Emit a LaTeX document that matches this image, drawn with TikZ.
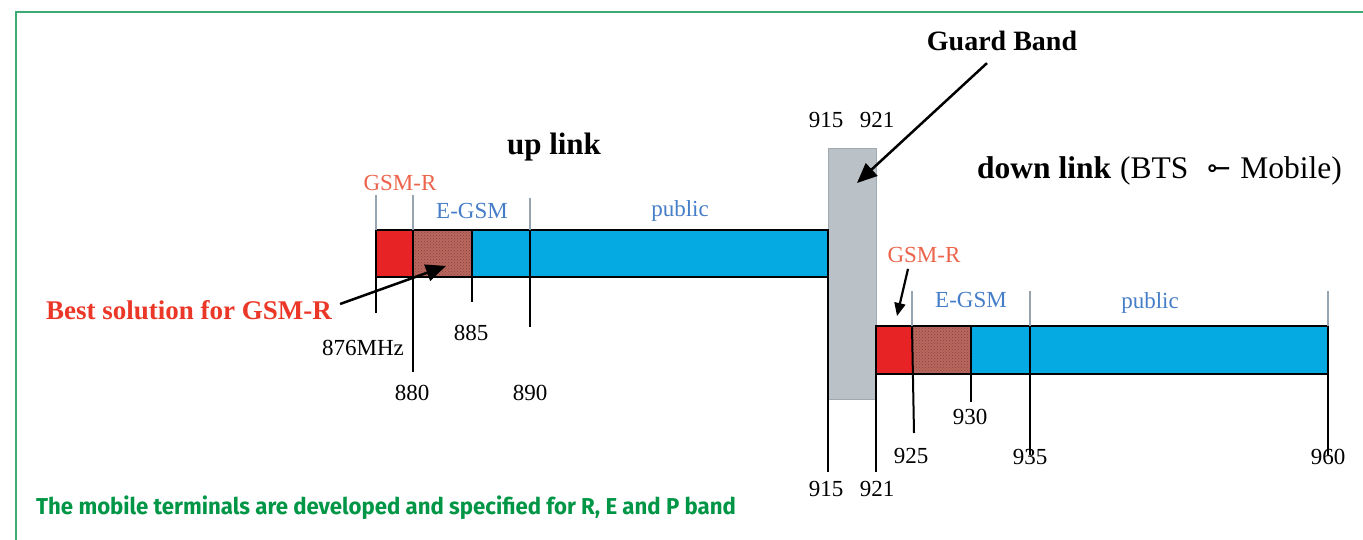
\documentclass[tikz,border=0pt]{standalone}
\usepackage{fontspec}
\setmainfont{Liberation Serif}
\newfontfamily\captionfont{Fira Sans}
\newfontfamily\symbolfont{DejaVu Sans}
\usetikzlibrary{arrows.meta,patterns}
\definecolor{framegreen}{RGB}{60,170,115}
\definecolor{captiongreen}{RGB}{0,150,70}
\definecolor{bandred}{RGB}{232,35,38}
\definecolor{bandblue}{RGB}{5,170,226}
\definecolor{bandhatch}{RGB}{184,104,94}
\definecolor{hatchdots}{RGB}{140,62,56}
\definecolor{guardgray}{RGB}{186,194,200}
\definecolor{guardedge}{RGB}{160,170,178}
\definecolor{labelred}{RGB}{235,100,75}
\definecolor{labelblue}{RGB}{70,125,200}
\definecolor{tickgray}{RGB}{150,165,175}
\definecolor{boldred}{RGB}{235,55,40}
\begin{document}
\begin{tikzpicture}[x=1pt,y=-1pt,
  outline/.style={draw=black,line width=2pt},
  tickline/.style={black,line width=2pt},
  thintick/.style={tickgray,line width=1.2pt},
  num/.style={font=\fontsize{23}{26}\selectfont,inner sep=0pt},
  bandname/.style={font=\fontsize{23}{26}\selectfont,inner sep=0pt},
  heading/.style={font=\fontsize{31}{34}\selectfont\bfseries,inner sep=0pt},
  plainheading/.style={font=\fontsize{31.5}{34}\selectfont,inner sep=0pt},
  pointer/.style={black,line width=2.5pt,-{Triangle[length=20pt,width=17pt]}},
  smallpointer/.style={black,line width=2.2pt,-{Triangle[length=13pt,width=11pt]}},
  hatched/.style={fill=bandhatch,postaction={pattern=crosshatch dots,pattern color=hatchdots}}
]
\useasboundingbox (0,0) rectangle (1363,540);

% open frame: top and left edges only
\draw[framegreen,line width=2pt] (16,540) -- (16,12) -- (1363,12);

% guard band between the two links
\node[fill=guardgray,draw=guardedge,line width=1pt,minimum width=48pt,minimum height=251pt,
      inner sep=0pt,anchor=north west] (guard) at (828,148) {};

% ---------------- up link band ----------------
\fill[bandred] (376,230) rectangle (413,277);
\fill[hatched] (413,230) rectangle (472,277);
\fill[bandblue] (472,230) rectangle (828,277);
\draw[outline] (376,230) rectangle (828,277);
\draw[thintick] (376,195) -- (376,230);
\draw[thintick] (413,195) -- (413,230);
\draw[thintick] (530,198) -- (530,230);
\draw[tickline] (376,277) -- (376,313);
\draw[tickline] (413,230) -- (413,372);
\draw[tickline] (472,230) -- (472,302);
\draw[tickline] (530,230) -- (530,327);
\draw[tickline] (828,230) -- (828,472);

% ---------------- down link band ----------------
\fill[bandred] (876,326) rectangle (912,374);
\fill[hatched] (912,326) rectangle (971,374);
\fill[bandblue] (971,326) rectangle (1328,374);
\draw[outline] (876,326) rectangle (1328,374);
\draw[thintick] (912,291) -- (912,326);
\draw[thintick] (1030,291) -- (1030,326);
\draw[thintick] (1328,291) -- (1328,326);
\draw[tickline] (912,326) -- (914,433);
\draw[tickline] (971,326) -- (971,402);
\draw[tickline] (1030,326) -- (1030,455);
\draw[tickline] (1328,326) -- (1328,455);
\draw[tickline] (876,326) -- (876,472);

% ---------------- frequency labels ----------------
\node[num] (f876) at (363,348) {876MHz};
\node[num] (f880) at (412,393) {880};
\node[num] (f885) at (471,333) {885};
\node[num] (f890) at (530,393) {890};
\node[num] (f915t) at (826,120) {915};
\node[num] (f921t) at (877,120) {921};
\node[num] (f915b) at (826,489) {915};
\node[num] (f921b) at (877,489) {921};
\node[num] (f925) at (911,456) {925};
\node[num] (f930) at (970,417) {930};
\node[num] (f935) at (1030,457) {935};
\node[num] (f960) at (1328,457) {960};

% ---------------- band names ----------------
\node[bandname,text=labelred] (ugsmr) at (400,183) {GSM-R};
\node[bandname,text=labelblue] (uegsm) at (472,211) {E-GSM};
\node[bandname,text=labelblue] (upub) at (680,211) {public};
\node[bandname,text=labelred] (dgsmr) at (924,255) {GSM-R};
\node[bandname,text=labelblue] (degsm) at (971,300) {E-GSM};
\node[bandname,text=labelblue] (dpub) at (1150,303) {public};

% ---------------- headings ----------------
\node[heading] (uplink) at (554,147) {up link};
\node[heading,font=\fontsize{28}{30}\selectfont\bfseries] (gband) at (1002,41) {Guard Band};
\node[heading,font=\fontsize{31.5}{34}\selectfont\bfseries,anchor=base west] (downlink) at (977,179) {down link};
\node[plainheading,anchor=base west] (bts) at (1120,179) {(BTS};
\node[inner sep=0pt,font=\symbolfont\fontsize{28}{28}\selectfont] (dirglyph) at (1219,171) {\reflectbox{⊸}};
\node[plainheading,anchor=base east] (mobile) at (1342,179) {Mobile)};
\node[heading,text=boldred,font=\fontsize{27}{30}\selectfont\bfseries] (best) at (189,310) {Best solution for GSM-R};

% ---------------- pointers ----------------
\coordinate (besttip) at (446,266);
\coordinate (guardtip) at (857,183);
\coordinate (dgsmrtip) at (897,316);
\draw[pointer] ([xshift=8pt,yshift=6pt]best.east) -- (besttip);
\draw[pointer] ([xshift=-15pt,yshift=-12pt]gband.south) -- (guardtip);
\draw[smallpointer] ([xshift=-16pt,yshift=-6pt]dgsmr.south) -- (dgsmrtip);

% ---------------- caption ----------------
\node[anchor=west,inner sep=0pt,text=captiongreen,font=\captionfont\bfseries\fontsize{23}{26}\selectfont] (caption) at (36,508)
  {\scalebox{0.965}[1]{The mobile terminals are developed and specified for R, E and P band}};
\end{tikzpicture}
\end{document}
